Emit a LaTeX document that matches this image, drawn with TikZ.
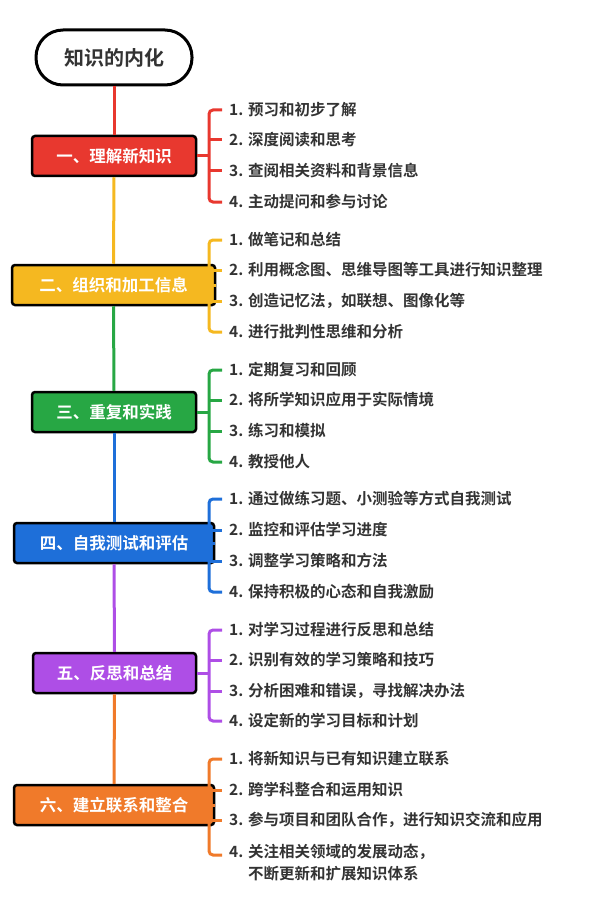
\documentclass[tikz,border=0pt]{standalone}
\usepackage{fontspec}
\setmainfont{Noto Sans CJK SC}
\newfontfamily\cjkb{Noto Sans CJK SC Bold}
\definecolor{cR}{HTML}{E8382F}
\definecolor{cY}{HTML}{F5B820}
\definecolor{cG}{HTML}{27A744}
\definecolor{cB}{HTML}{1E6FD9}
\definecolor{cP}{HTML}{AE4EE6}
\definecolor{cO}{HTML}{F07A2A}
\definecolor{tx}{HTML}{333333}
\begin{document}
\begin{tikzpicture}[x=1pt,y=-1pt,
 mainbox/.style={draw=black,line width=2.5pt,rounded corners=3pt,text=white,font=\cjkb\fontsize{16.5}{18}\selectfont,inner sep=0pt,anchor=center},
 item/.style={anchor=west,text=tx,font=\cjkb\fontsize{15.5}{22}\selectfont,inner sep=0pt,align=left},
 br/.style={line width=3pt,rounded corners=4pt}]
\useasboundingbox (0,0) rectangle (600,904);
\node[draw=black,line width=3pt,rounded corners=27pt,minimum width=156pt,minimum height=55pt,font=\cjkb\fontsize{20}{22}\selectfont,text=tx] (root) at (114,57.5) {知识的内化};
\newcommand\mk[6]{%
 \node[mainbox,fill=#2,minimum width=#4pt,minimum height=40pt] (#1) at (#3,#5) {#6};}
\mk{m1}{cR}{114}{164}{156}{一、理解新知识}
\mk{m2}{cY}{113.5}{203}{285}{二、组织和加工信息}
\mk{m3}{cG}{114}{164}{412}{三、重复和实践}
\mk{m4}{cB}{114}{200}{543}{四、自我测试和评估}
\mk{m5}{cP}{114.5}{163}{673}{五、反思和总结}
\mk{m6}{cO}{114}{200}{805}{六、建立联系和整合}
\draw[cR,line width=3pt] (root.south) -- (m1.north);
\draw[cY,line width=3pt] (m1.south) -- (m2.north);
\draw[cG,line width=3pt] (m2.south) -- (m3.north);
\draw[cB,line width=3pt] (m3.south) -- (m4.north);
\draw[cP,line width=3pt] (m4.south) -- (m5.north);
\draw[cO,line width=3pt] (m5.south) -- (m6.north);
\newcommand\brk[7]{%
 \coordinate (#1j) at (209,#3);
 \draw[#2,line width=3pt] (#1.east) -- (#1j);
 \draw[#2,br] (222,#4) -- (209,#4) -- (209,#7) -- (222,#7);
 \draw[#2,line width=3pt] (209,#5) -- (222,#5) (209,#6) -- (222,#6);}
\brk{m1}{cR}{156}{110}{140}{171}{202}
\brk{m2}{cY}{285}{240}{270}{301}{332}
\brk{m3}{cG}{412}{370}{400}{431}{462}
\brk{m4}{cB}{543}{499}{530}{561}{592}
\brk{m5}{cP}{673}{630}{660}{691}{721}
\brk{m6}{cO}{805}{759}{790}{820}{855}
\node[item] (a1) at (229,110) {1. 预习和初步了解};
\node[item] (a2) at (229,140) {2. 深度阅读和思考};
\node[item] (a3) at (229,171) {3. 查阅相关资料和背景信息};
\node[item] (a4) at (229,202) {4. 主动提问和参与讨论};
\node[item] (b1) at (229,240) {1. 做笔记和总结};
\node[item] (b2) at (229,270) {2. 利用概念图、思维导图等工具进行知识整理};
\node[item] (b3) at (229,301) {3. 创造记忆法，如联想、图像化等};
\node[item] (b4) at (229,332) {4. 进行批判性思维和分析};
\node[item] (c1) at (229,370) {1. 定期复习和回顾};
\node[item] (c2) at (229,400) {2. 将所学知识应用于实际情境};
\node[item] (c3) at (229,431) {3. 练习和模拟};
\node[item] (c4) at (229,462) {4. 教授他人};
\node[item] (d1) at (229,499) {1. 通过做练习题、小测验等方式自我测试};
\node[item] (d2) at (229,530) {2. 监控和评估学习进度};
\node[item] (d3) at (229,561) {3. 调整学习策略和方法};
\node[item] (d4) at (229,592) {4. 保持积极的心态和自我激励};
\node[item] (e1) at (229,630) {1. 对学习过程进行反思和总结};
\node[item] (e2) at (229,660) {2. 识别有效的学习策略和技巧};
\node[item] (e3) at (229,691) {3. 分析困难和错误，寻找解决办法};
\node[item] (e4) at (229,721) {4. 设定新的学习目标和计划};
\node[item] (f1) at (229,759) {1. 将新知识与已有知识建立联系};
\node[item] (f2) at (229,790) {2. 跨学科整合和运用知识};
\node[item] (f3) at (229,820) {3. 参与项目和团队合作，进行知识交流和应用};
\node[item,anchor=north west] (f4) at (229,844) {4. 关注相关领域的发展动态，\\\phantom{4. }不断更新和扩展知识体系};
\end{tikzpicture}
\end{document}
